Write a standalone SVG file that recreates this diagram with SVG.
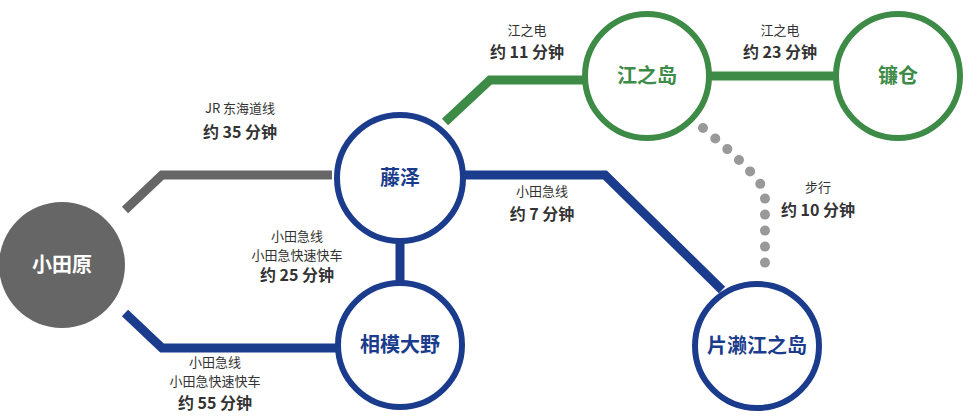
<svg xmlns="http://www.w3.org/2000/svg" width="980" height="419" viewBox="0 0 980 419">
<style>
.b{fill:#fff;stroke:#1b3c8c;stroke-width:6}
.g{fill:#fff;stroke:#3d8b47;stroke-width:6}
.nb{font:bold 20px "Noto Sans CJK SC","Noto Sans",sans-serif;fill:#1b3c8c;text-anchor:middle}
.ng{font:bold 20px "Noto Sans CJK SC","Noto Sans",sans-serif;fill:#3d8b47;text-anchor:middle}
.s{font:13px "Noto Sans CJK SC","Noto Sans",sans-serif;fill:#333;text-anchor:middle}
.m{font:bold 16px "Noto Sans CJK SC","Noto Sans",sans-serif;fill:#333;text-anchor:middle}
</style>
<g id="connectors" fill="none" stroke-width="9">
<polyline points="125,210 162,175 332,175" stroke="#666"/>
<polyline points="125,313 162,348 336,348" stroke="#1b3c8c"/>
<line x1="400" y1="240" x2="400" y2="284" stroke="#1b3c8c"/>
<polyline points="460,175 605,175 722,290" stroke="#1b3c8c"/>
<polyline points="445,122 490,80 587,80" stroke="#3d8b47"/>
<line x1="708" y1="76" x2="838" y2="76" stroke="#3d8b47"/>
<path d="M703,128 Q765,180 765,195 L765,272" stroke="#999" stroke-dasharray="0 16" stroke-linecap="round" stroke-width="10"/>
</g>
<g id="n-odawara"><circle cx="62" cy="265" r="63" fill="#666"/><text x="62" y="272" class="nb" style="fill:#fff">小田原</text></g>
<g id="n-fujisawa"><circle cx="400" cy="178" r="63" class="b"/><text x="400" y="185" class="nb">藤泽</text></g>
<g id="n-sagami"><circle cx="400" cy="345" r="62" class="b"/><text x="400" y="352" class="nb">相模大野</text></g>
<g id="n-katase"><circle cx="757" cy="346" r="62" class="b"/><text x="757" y="353" class="nb">片濑江之岛</text></g>
<g id="n-enoshima"><circle cx="647" cy="76" r="62" class="g"/><text x="647" y="83" class="ng">江之岛</text></g>
<g id="n-kamakura"><circle cx="898" cy="76" r="62" class="g"/><text x="898" y="83" class="ng">镰仓</text></g>
<g id="labels">
<text x="240" y="113" class="s">JR 东海道线</text><text x="240" y="138" class="m">约 35 分钟</text>
<text x="297" y="241" class="s">小田急线</text><text x="297" y="260" class="s">小田急快速快车</text><text x="297" y="281" class="m">约 25 分钟</text>
<text x="215" y="367" class="s">小田急线</text><text x="215" y="386" class="s">小田急快速快车</text><text x="215" y="409" class="m">约 55 分钟</text>
<text x="542" y="196" class="s">小田急线</text><text x="542" y="220" class="m">约 7 分钟</text>
<text x="527" y="35" class="s">江之电</text><text x="527" y="58" class="m">约 11 分钟</text>
<text x="780" y="35" class="s">江之电</text><text x="780" y="58" class="m">约 23 分钟</text>
<text x="818" y="192" class="s">步行</text><text x="818" y="216" class="m">约 10 分钟</text>
</g>
</svg>
